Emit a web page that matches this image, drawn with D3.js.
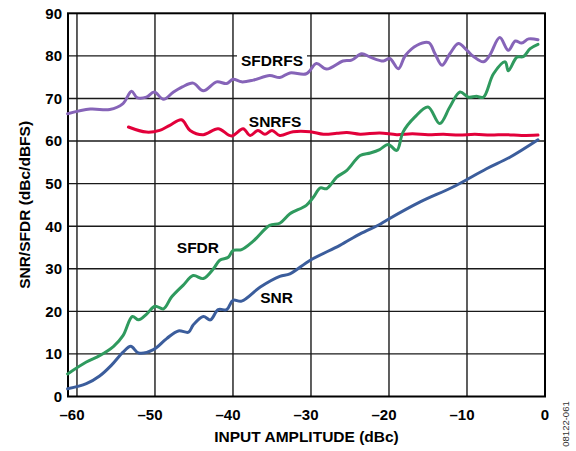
<!DOCTYPE html>
<html>
<head>
<meta charset="utf-8">
<script src="https://cdn.jsdelivr.net/npm/d3@7"></script>
<style>
  body { margin: 0; background: #fff; }
  svg { font-family: "Liberation Sans", Arial, sans-serif; }
</style>
</head>
<body>
<svg id="chart" width="576" height="451"></svg>
<script>
// values (x = input amplitude dBc, y = dB)
var sfdrfsX = [-61.2,-58.3,-55.8,-54.1,-53.0,-52.3,-51.1,-50.1,-48.9,-47.7,-46.5,-45.1,-43.8,-42.1,-40.8,-40.0,-38.9,-37.4,-35.3,-34.0,-32.7,-30.6,-29.3,-28.0,-25.9,-24.8,-23.5,-22.4,-20.7,-19.9,-18.8,-17.9,-16.4,-14.9,-14.1,-13.2,-12.2,-11.1,-10.0,-9.2,-7.9,-7.1,-5.8,-4.7,-3.8,-3.0,-2.1,-0.9];
var sfdrfsY = [66.4,67.5,67.4,68.8,71.7,70.2,70.3,71.5,69.8,71.4,72.7,73.6,71.8,73.9,73.5,74.5,73.9,74.3,75.4,74.9,76.0,75.8,78.2,76.9,78.8,79.0,80.5,79.7,78.8,79.4,77.0,80.1,82.5,83.1,80.5,77.8,80.5,82.9,81.3,79.9,78.6,80.1,84.3,81.3,83.5,83.0,84.0,83.8];

var snrfsX = [-53.4,-51.1,-49.4,-48.1,-46.6,-45.5,-43.8,-41.9,-40.2,-38.7,-37.8,-36.8,-35.9,-35.0,-34.0,-32.3,-30.1,-28.4,-26.7,-25.4,-23.7,-21.2,-19.0,-17.0,-15.0,-13.0,-11.0,-9.0,-7.0,-5.0,-3.0,-0.9];
var snrfsY = [63.3,62.1,62.5,63.7,65.0,62.5,61.5,62.9,61.2,62.9,61.3,62.5,61.6,62.5,61.3,62.2,62.2,61.6,61.8,62.0,61.6,61.9,61.5,61.7,61.5,61.6,61.4,61.6,61.4,61.5,61.3,61.4];

var sfdrX = [-61.2,-58.8,-57.1,-55.3,-54.1,-52.9,-52.1,-51.1,-50.0,-48.9,-47.9,-46.4,-45.1,-43.8,-42.5,-41.7,-40.6,-40.0,-38.9,-37.4,-35.3,-34.0,-32.7,-30.6,-29.7,-28.8,-28.0,-26.7,-25.4,-23.7,-22.4,-21.2,-20.1,-19.0,-18.2,-16.7,-15.0,-13.5,-12.2,-10.9,-9.8,-8.8,-7.9,-6.6,-5.1,-4.7,-3.6,-2.8,-1.9,-0.9];
var sfdrY = [5.3,8.1,9.6,11.8,14.3,18.8,18.0,19.3,21.2,20.6,23.3,26.1,28.4,27.7,30.0,32.0,32.7,34.3,34.5,36.5,40.2,40.7,42.9,44.9,46.8,49.0,48.8,51.5,53.1,56.6,57.2,58.0,59.2,57.8,62.1,65.6,68.0,64.1,68.0,71.5,70.3,70.5,70.3,75.8,78.6,76.5,79.7,79.8,81.7,82.7];

var snrX = [-61.2,-58.8,-57.1,-55.6,-54.1,-53.1,-52.1,-50.2,-48.5,-47.0,-45.7,-45.1,-43.8,-42.9,-41.9,-40.8,-40.0,-38.9,-36.5,-34.0,-32.7,-30.1,-26.3,-23.7,-21.2,-20.3,-16.0,-11.8,-7.5,-4.5,-0.9];
var snrY = [1.8,3.0,4.8,7.3,10.4,11.8,10.2,11.0,13.6,15.4,15.1,16.8,18.8,18.0,20.4,20.4,22.6,22.4,25.7,28.2,28.8,32.0,35.5,38.2,40.4,41.4,45.7,49.2,53.5,56.2,60.3];

var xTicks = [-60, -50, -40, -30, -20, -10, 0];
var yTicks = [0, 10, 20, 30, 40, 50, 60, 70, 80, 90];

var svg = d3.select("#chart");
var plotLeft = 68, plotRight = 545, plotTop = 13.3, plotBottom = 396.5;

var x = d3.scaleLinear().domain([-61.15, 0]).range([plotLeft, plotRight]);
var y = d3.scaleLinear().domain([0, 90]).range([plotBottom, plotTop]);

// grid
var grid = svg.append("g").attr("stroke", "#1a1a1a").attr("stroke-width", 1.4);
grid.selectAll(".vx").data(xTicks.slice(0, -1)).enter().append("line")
  .attr("x1", function(d) { return x(d); }).attr("x2", function(d) { return x(d); })
  .attr("y1", plotTop).attr("y2", plotBottom);
grid.selectAll(".hy").data(yTicks.slice(1, -1)).enter().append("line")
  .attr("x1", plotLeft).attr("x2", plotRight)
  .attr("y1", function(d) { return y(d); }).attr("y2", function(d) { return y(d); });

// white box knocking out the grid behind the SFDRFS label
svg.append("rect")
  .attr("x", 237).attr("y", 50).attr("width", 70).attr("height", 17)
  .attr("fill", "#fff");

// frame
svg.append("rect")
  .attr("x", plotLeft).attr("y", plotTop)
  .attr("width", plotRight - plotLeft).attr("height", plotBottom - plotTop)
  .attr("fill", "none").attr("stroke", "#000").attr("stroke-width", 2);

var line = d3.line()
  .x(function(d) { return x(d[0]); })
  .y(function(d) { return y(d[1]); })
  .curve(d3.curveCatmullRom.alpha(0.5));

var series = [
  { xs: sfdrfsX, ys: sfdrfsY, color: "#8664b8" },
  { xs: snrfsX, ys: snrfsY, color: "#e2003a" },
  { xs: sfdrX, ys: sfdrY, color: "#2f9a5e" },
  { xs: snrX, ys: snrY, color: "#3b5d9c" }
];

series.forEach(function(s) {
  svg.append("path")
    .datum(d3.zip(s.xs, s.ys))
    .attr("fill", "none")
    .attr("stroke", s.color)
    .attr("stroke-width", 3)
    .attr("stroke-linejoin", "round")
    .attr("stroke-linecap", "round")
    .attr("d", line);
});

// tick labels
svg.append("g").selectAll("text").data(yTicks).enter().append("text")
  .attr("x", 62).attr("y", function(d) { return y(d); })
  .attr("dy", "0.36em")
  .attr("text-anchor", "end")
  .attr("font-size", "15px").attr("font-weight", "bold")
  .text(function(d) { return d; });

svg.append("g").selectAll("text").data(xTicks).enter().append("text")
  .attr("x", function(d) { return x(d) + (d < 0 ? -5 : 0); })
  .attr("y", 420)
  .attr("text-anchor", "middle")
  .attr("font-size", "15px").attr("font-weight", "bold")
  .text(function(d) { return d < 0 ? "\u2013" + Math.abs(d) : d; });

// axis titles
svg.append("text")
  .attr("x", (plotLeft + plotRight) / 2).attr("y", 442)
  .attr("text-anchor", "middle")
  .attr("font-size", "15.5px").attr("font-weight", "bold")
  .text("INPUT AMPLITUDE (dBc)");

svg.append("text")
  .attr("transform", "translate(30," + ((plotTop + plotBottom) / 2) + ") rotate(-90)")
  .attr("text-anchor", "middle")
  .attr("font-size", "15.5px").attr("font-weight", "bold")
  .text("SNR/SFDR (dBc/dBFS)");

// series labels
var labels = [
  { t: "SFDRFS", lx: -35.0, ly: 77.7, anchor: "middle" },
  { t: "SNRFS", lx: -34.6, ly: 63.4, anchor: "middle" },
  { t: "SFDR", lx: -47.2, ly: 33.7, anchor: "start" },
  { t: "SNR", lx: -36.5, ly: 22.0, anchor: "start" }
];
svg.append("g").selectAll("text").data(labels).enter().append("text")
  .attr("x", function(d) { return x(d.lx); })
  .attr("y", function(d) { return y(d.ly); })
  .attr("text-anchor", function(d) { return d.anchor; })
  .attr("font-size", "15.5px").attr("font-weight", "bold")
  .text(function(d) { return d.t; });

// figure id
svg.append("text")
  .attr("transform", "translate(569,424) rotate(-90)")
  .attr("text-anchor", "middle")
  .attr("font-size", "9.5px")
  .attr("fill", "#333")
  .text("08122-061");
</script>
</body>
</html>
